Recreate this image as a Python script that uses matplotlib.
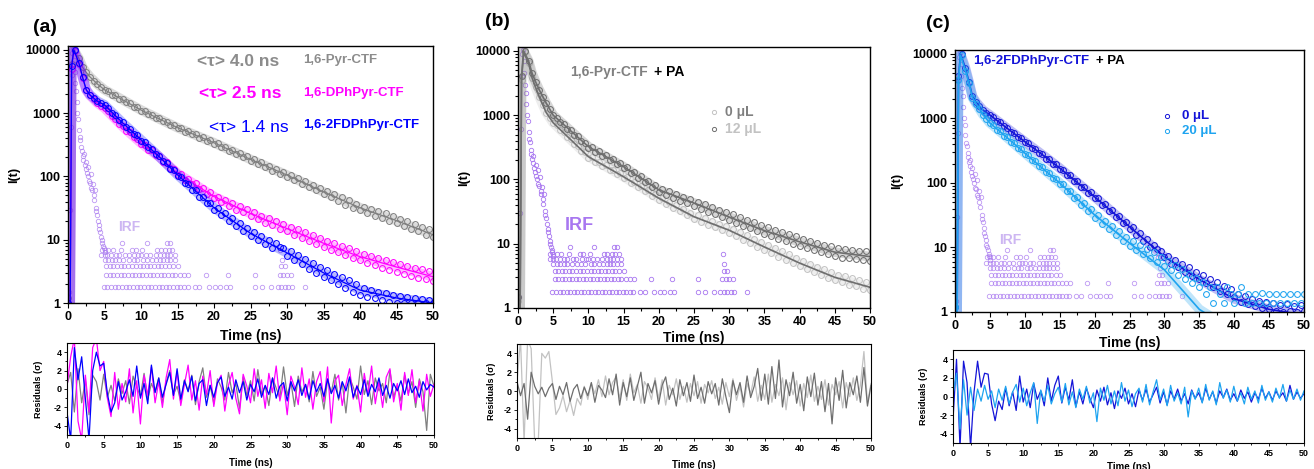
import matplotlib
matplotlib.use('Agg')
import matplotlib.pyplot as plt
from matplotlib.ticker import NullFormatter
import numpy as np

plt.rcParams['font.family'] = ['Liberation Sans', 'DejaVu Sans']
plt.rcParams['font.weight'] = 'bold'
plt.rcParams['axes.labelweight'] = 'bold'
plt.rcParams['axes.unicode_minus'] = False

# ---- data ----
t = np.arange(0, 50.01, 0.5)          # sampling of data / residual points (ns)
t_fit = [0.3, 0.5, 0.8, 1.5, 2, 2.5, 3, 4, 5, 7.5, 10, 12.5, 15, 20, 25, 30, 35, 40, 45, 50]

# panel (a) decays
a_pyr = [1.2, 6000, 9800, 7300, 5300, 4400, 3750, 3250, 2900, 2600,
         2350, 2230, 1950, 1900, 1700, 1680, 1480, 1440, 1260, 1230,
         1100, 1090, 960, 940, 850, 830, 740, 735, 650, 640,
         575, 575, 510, 515, 460, 462, 405, 418, 368, 372,
         328, 335, 290, 296, 255, 262, 228, 235, 200, 207,
         178, 188, 158, 166, 140, 148, 124, 132, 111, 118,
         98, 106, 87, 93, 77, 84, 68, 74, 60, 66,
         53, 59, 47, 53, 41, 47, 36, 42, 32, 37,
         29, 33, 26, 31, 24, 28, 22, 26, 20, 24,
         18.5, 21.5, 16.5, 19.5, 15, 17.5, 13.5, 16, 12, 14.5, 11]
a_dph = [1, 5000, 9500, 6000, 3600, 2300, 1900, 1650, 1450, 1320,
         1200, 1090, 890, 820, 680, 625, 530, 495, 415, 390,
         325, 315, 265, 258, 215, 210, 172, 168, 136, 132,
         106, 110, 89, 92, 75, 78, 63, 66, 53, 56,
         45, 48, 39, 43, 34, 38, 30, 34, 27, 30.5,
         24, 27, 21, 24, 18.5, 22, 17, 19.5, 15, 17.5,
         13.5, 16, 12, 14.5, 10.8, 13, 9.6, 11.8, 8.6, 10.6,
         7.8, 9.6, 7.0, 8.8, 6.3, 8.0, 5.7, 7.3, 5.1, 6.6,
         4.7, 6.0, 4.3, 5.6, 4.0, 5.2, 3.6, 4.8, 3.3, 4.5,
         3.1, 4.2, 2.9, 3.9, 2.7, 3.6, 2.5, 3.4, 2.4, 3.2, 2.2]
a_2fd = [1, 5500, 9800, 6200, 3700, 2350, 1950, 1750, 1550, 1440,
         1350, 1220, 1000, 935, 775, 715, 600, 565, 470, 445,
         368, 348, 287, 272, 224, 212, 174, 163, 133, 126,
         102, 98, 79, 77, 61, 60, 48, 48, 38, 38.5,
         29.5, 31.5, 24.5, 26.5, 20, 22, 16.5, 18.5, 13.8, 15.3,
         11.4, 13, 9.8, 11.4, 8.5, 9.9, 7.3, 8.8, 7.8, 7.5,
         5.6, 6.6, 4.7, 5.7, 4.1, 4.9, 3.5, 4.3, 3.0, 3.7,
         2.6, 3.3, 2.3, 2.9, 2.0, 2.6, 1.75, 2.3, 1.5, 2.0,
         1.35, 1.75, 1.25, 1.6, 1.2, 1.5, 1.1, 1.45, 1.05, 1.35,
         1.0, 1.3, 1.0, 1.25, 1.0, 1.2, 1.0, 1.15, 1.0, 1.1, 1.0]
fit_a_pyr = [1, 6000, 10000, 7300, 5300, 4400, 3750, 2900, 2340, 1620, 1120, 810, 590, 340, 186, 105, 57, 32, 20, 12]
fit_a_dph = [1, 5000, 10000, 6000, 3600, 2300, 1900, 1450, 1200, 610, 335, 203, 112, 48, 26, 15, 8.8, 5.4, 3.7, 2.6]
fit_a_2fd = [1, 5500, 10000, 6200, 3700, 2350, 1950, 1550, 1350, 700, 380, 205, 106, 32, 12.6, 6.2, 3.0, 1.6, 1.2, 1.0]

# panel (b) decays: 1,6-Pyr-CTF + PA
b_12 = [1.5, 4000, 9800, 7000, 4500, 3300, 2500, 1900, 1550, 1250,
        1000, 920, 775, 735, 615, 590, 490, 470, 392, 375,
        312, 315, 270, 275, 232, 238, 200, 208, 173, 180,
        150, 156, 126, 132, 107, 112, 90, 95, 76, 81,
        64, 71, 58, 65, 52, 59, 47, 54, 43, 50,
        39, 45, 35, 41, 31.5, 37.5, 28.5, 34, 26, 31,
        23, 28.5, 21, 26, 19, 23.5, 17.3, 21.5, 15.6, 19.5,
        14, 18, 13, 16.5, 12, 15.3, 10.9, 14, 10, 13,
        9.3, 12, 8.6, 11.2, 8.0, 10.4, 7.4, 9.7, 6.9, 9.1,
        6.4, 8.6, 6.1, 8.3, 5.9, 8.0, 5.7, 7.8, 5.5, 7.6, 5.4]
b_0 = [1.3, 3500, 9500, 6500, 3800, 2700, 1950, 1450, 1100, 900,
       760, 695, 578, 545, 452, 430, 355, 337, 279, 265,
       218, 220, 189, 190, 163, 165, 141, 142, 121, 124,
       104, 108, 89, 92, 76, 80, 66, 68, 56, 59,
       48, 51, 42, 45, 36.5, 39.5, 32, 34.5, 28, 30.5,
       24.5, 27.5, 22, 25, 19.8, 22.8, 18, 20.6, 16.3, 18.8,
       14.7, 17, 13, 15.2, 11.5, 13.5, 10.2, 12, 9, 10.6,
       8.0, 9.5, 7.1, 8.5, 6.3, 7.6, 5.6, 6.8, 5.0, 6.0,
       4.5, 5.4, 4.0, 4.9, 3.6, 4.4, 3.3, 4.0, 2.9, 3.6,
       2.7, 3.3, 2.5, 3.1, 2.3, 2.9, 2.2, 2.7, 2.0, 2.5, 1.9]
fit_b_12 = [1, 4000, 10000, 7000, 4500, 3300, 2500, 1550, 1000, 569, 324, 226, 158, 69, 43, 26, 16, 10.7, 7.4, 6.3]
fit_b_0 = [1, 3500, 9500, 6500, 3800, 2700, 1950, 1100, 760, 415, 226, 158, 110, 51, 26.3, 16.2, 8.9, 5.0, 3.0, 2.1]

# panel (c) decays: 1,6-2FDPhPyr-CTF + PA
c_0 = [1.2, 4500, 9800, 6000, 3700, 2200, 1800, 1550, 1350, 1230,
       1130, 1060, 905, 872, 752, 722, 622, 598, 513, 494,
       425, 409, 350, 340, 289, 281, 239, 233, 197, 194,
       163, 160, 132, 131, 107, 107, 87, 88, 71, 72,
       58, 59, 46, 47.5, 37, 38.5, 30, 31, 24, 25,
       19.5, 20.5, 15.5, 16.5, 12.5, 13.5, 10, 10.8, 9.4, 8.8,
       7.0, 7.4, 5.6, 6.4, 4.9, 5.6, 4.2, 4.9, 3.6, 4.2,
       3.2, 3.7, 2.8, 3.3, 2.4, 2.9, 2.15, 2.55, 1.9, 2.3,
       1.7, 1.9, 1.45, 1.75, 1.35, 1.6, 1.25, 1.5, 1.15, 1.45,
       1.1, 1.4, 1.05, 1.3, 1.0, 1.35, 1.05, 1.25, 1.0, 1.3, 1.05]
c_20 = [1.2, 4000, 9500, 5500, 3500, 2100, 1700, 1400, 1150, 980,
        850, 790, 665, 635, 535, 510, 430, 412, 346, 332,
        280, 270, 224, 220, 181, 178, 146, 144, 118, 117,
        95, 95, 74, 76, 59, 60, 46, 49, 37, 39,
        29, 32, 23.5, 26, 19.2, 21.5, 15.6, 17.8, 12.8, 14.6,
        10.5, 12.6, 9.1, 11, 7.9, 9.6, 6.9, 8.4, 6.0, 7.2,
        5.1, 6.2, 4.4, 5.3, 3.8, 4.6, 3.2, 3.9, 2.8, 3.4,
        2.4, 2.9, 1.9, 2.4, 1.4, 2.4, 1.9, 1.4, 2.4, 1.9,
        1.4, 1.9, 2.4, 1.4, 1.9, 1.4, 1.9, 1.4, 2.0, 1.4,
        1.9, 1.4, 1.9, 1.4, 1.9, 1.4, 1.9, 1.4, 1.9, 1.4, 1.9]
fit_c_0 = [1, 4500, 10000, 6000, 3700, 2200, 1800, 1350, 1130, 700, 437, 275, 170, 61, 21, 7.2, 3.2, 1.6, 1.1, 0.9]
fit_c_20 = [1, 4000, 9500, 5500, 3500, 2100, 1700, 1150, 850, 500, 290, 170, 100, 32, 11.7, 4.5, 1.1, 0.5, 0.3, 0.2]

# instrument response (same in every panel)
irf_t = [0.2, 0.3, 0.4, 0.5, 0.6, 0.7, 0.8, 0.9, 1.0, 1.1, 1.2, 1.3, 1.4, 1.5, 1.6, 1.7,
         1.8, 1.9, 2.0, 2.1, 2.2, 2.3, 2.4, 2.5, 2.6, 2.7, 2.8, 2.9, 3.0, 3.1, 3.2, 3.3,
         3.4, 3.5, 3.6, 3.7, 3.8, 3.9, 4.0, 4.1, 4.2, 4.3, 4.4, 4.5, 4.6, 4.7, 4.8, 4.9, 5.0]
irf_v = [1.5, 30, 600, 4000, 9000, 10500, 7000, 4500, 3000, 2200, 1500, 1000, 800, 550, 420, 380,
         290, 250, 210, 180, 230, 150, 130, 170, 115, 100, 140, 85, 80, 110, 65, 60,
         75, 50, 42, 60, 32, 28, 25, 20, 17, 15, 13, 11, 10, 9, 8, 7.5, 6.5]
irf_levels = [1.8, 2.8, 3.8, 4.8, 5.8, 7.0, 9.0]
irf_tail_times = [
    [4.9, 5.4, 5.9, 6.4, 6.9, 7.4, 7.9, 8.4, 8.9, 9.4, 9.9, 10.4, 10.9, 11.4, 11.9, 12.4, 12.9,
     13.4, 13.9, 14.4, 14.9, 15.4, 15.9, 16.4, 17.4, 18.0, 19.3, 20.2, 20.8, 21.6, 22.2,
     25.6, 26.6, 27.8, 28.7, 29.2, 29.7, 30.2, 30.7, 32.5],
    [5.2, 5.7, 6.2, 6.7, 7.2, 7.7, 8.2, 8.7, 9.2, 9.7, 10.2, 10.7, 11.2, 11.7, 12.2, 12.7, 13.2,
     13.7, 14.2, 14.7, 15.3, 15.9, 16.5, 18.9, 21.9, 25.6, 29.0, 29.5, 30.0, 30.5],
    [5.2, 5.7, 6.2, 6.7, 7.2, 7.7, 8.2, 8.8, 9.3, 9.8, 10.3, 10.8, 11.3, 11.8, 12.3, 12.8, 13.3,
     13.8, 14.4, 15.0, 29.2, 29.7],
    [5.0, 5.5, 6.0, 6.5, 7.0, 7.6, 8.4, 9.0, 9.5, 10.3, 10.8, 11.5, 12.1, 12.6, 13.0, 13.5, 14.0, 14.6, 29.3],
    [4.5, 5.0, 5.4, 5.9, 6.6, 7.0, 7.8, 8.3, 9.1, 9.6, 10.0, 10.7, 11.2, 12.0, 12.6, 13.1, 13.5, 14.0, 14.6],
    [4.6, 5.0, 5.5, 6.1, 7.2, 8.8, 9.3, 10.2, 12.2, 12.7, 13.3, 13.8, 14.3, 29.1],
    [7.4, 10.8, 13.6, 14.0],
]

# residuals
res_a_pyr = [0.5, 1.8, -2.5, 2.2, -1.5, 1.0, -2.8, 1.5, 0.8, -1.2,
             1.6, -0.9, 0.4, -1.3, 1.1, -0.5, 0.9, -1.6, 1.4, 0.2,
             -0.8, 1.7, -1.1, 0.6, -0.3, 1.2, -1.5, 0.7, 2.0, -0.6,
             0.3, -1.4, 1.0, -0.2, 1.5, -1.7, 0.8, 2.3, -0.9, 0.4,
             -1.6, 1.1, 0.2, -1.2, 1.8, -0.4, 0.6, -2.1, 1.3, -0.7,
             0.9, -1.3, 2.1, -0.5, 0.3, -1.8, 1.2, 0.1, -1.0, 2.4,
             -0.7, 0.8, -1.9, 1.4, -0.3, 0.5, -1.4, 1.9, -0.8, 0.2,
             -2.2, 1.0, -0.4, 1.6, -1.2, 0.7, -2.6, 1.3, 0.2, -1.1,
             2.5, -0.6, 0.9, -1.7, 1.2, -0.2, 0.6, -1.5, 2.0, -0.9,
             0.4, -1.3, 1.5, -0.5, 0.8, -2.0, 1.1, -0.3, -4.5, 1.6, 0.3]
res_a_dph = [0.3, 3.5, 5.5, -3.5, -5.5, 1.5, -2.5, 4.5, 5.5, 2.0,
             3.0, -1.0, -3.0, 1.8, -2.2, 0.6, -1.4, 2.2, -2.6, 0.9,
             -3.8, 1.5, -0.7, 2.4, -1.5, 0.8, -2.0, 1.2, 3.2, -1.1,
             1.9, -1.8, 0.5, 2.6, -1.2, 0.9, -2.3, 1.4, -0.6, 2.0,
             -1.9, 0.7, 1.5, -2.4, 0.4, 1.8, -1.0, -2.7, 1.6, 0.3,
             -1.5, 2.2, -0.8, 1.0, -2.1, 1.7, -0.4, 2.5, -1.3, 0.6,
             -2.8, 1.4, 0.2, -1.7, 2.3, -0.9, 1.1, -2.2, 0.8, 1.9,
             -1.4, 2.4, -3.7, 0.9, 1.5, -1.8, 0.5, 2.2, -1.1, 0.4,
             -2.5, 1.7, -0.6, 2.5, -1.6, 0.8, -2.0, 1.3, 2.2, -1.4,
             0.6, -2.3, 1.8, -0.7, 2.1, -1.5, 0.9, -2.4, 1.6, -0.8, 0.5]
res_a_2fd = [-2.5, -5.5, 4.5, 1.0, 3.5, -1.0, -5.5, 2.0, 4.0, 2.5,
             2.8, -0.5, -2.5, -1.5, 0.8, -1.2, -0.3, 1.0, -0.8, 2.5,
             -1.0, 0.6, -1.6, 2.6, -0.4, 1.2, -0.9, 0.5, 1.8, -0.7,
             2.2, -1.1, 0.9, -0.3, 1.4, -1.3, 0.6, 1.0, -1.8, 0.4,
             -0.9, 0.7, 1.3, -0.8, 0.2, -1.1, 1.0, -0.4, 0.8, -1.2,
             0.5, -0.3, 1.1, -0.9, 0.4, -0.6, 1.2, -1.0, 0.3, 0.7,
             -1.3, 0.8, -0.2, 1.0, -0.7, 0.5, -1.1, 0.9, -0.3, 0.6,
             -0.8, 1.1, -0.5, 0.4, -1.0, 0.8, -0.2, 1.3, -0.9, 0.3,
             -0.6, 1.0, -0.8, 0.5, -0.3, 1.2, -0.7, 0.4, -1.0, 0.6,
             -0.2, 0.9, -0.6, 1.1, -0.4, 0.3, -0.9, 0.8, -0.1, 0.5, 0.2]
res_b_12 = [1.0, -0.5, 0.8, -3.0, 2.0, 0.5, -0.3, 0.4, -0.6, 0.3,
            0.8, -0.9, 0.5, -0.4, 0.9, -1.1, 0.2, 0.7, -0.8, 0.4,
            -0.5, 0.9, -1.2, 0.6, 0.1, -0.7, 1.3, -0.4, 1.8, -1.5,
            0.9, -0.6, 1.4, -1.0, 0.5, 2.0, -1.3, 0.8, -0.2, 1.1,
            -1.4, 0.6, 1.5, -0.9, 0.3, -1.6, 1.2, -0.5, 0.9, -1.1,
            1.7, -0.8, 0.4, -1.3, 1.0, -0.3, 0.8, -1.5, 1.3, -0.6,
            -2.3, 1.1, -0.4, 0.9, -1.2, 1.6, -0.7, 0.5, 2.4, -1.0,
            1.8, -1.4, 2.6, -0.8, 3.3, -1.7, 1.2, -0.5, 2.0, -1.3,
            0.7, -2.1, 1.5, -0.6, 1.9, -1.5, 1.0, -2.2, 0.8, -3.5,
            1.4, -1.0, 2.2, -1.8, 0.9, -0.4, 1.6, -1.2, 2.5, -1.6, 0.6]
res_b_0 = [1.0, 5.5, -5.5, 5.5, 4.5, -5.5, -5.5, 4.0, 3.5, 4.2,
           1.0, -2.5, -1.8, -0.5, -2.2, -1.0, -2.6, -0.8, -1.5, 0.5,
           -0.9, 0.8, -0.3, 1.2, -0.6, 1.6, -0.4, 0.9, 1.5, -0.8,
           1.2, -1.0, 1.8, -0.2, 0.7, -1.3, 1.0, 0.3, -0.9, 1.4,
           -0.8, 1.2, -1.5, 0.6, -0.4, 1.3, -0.9, 0.5, -1.2, 0.8,
           -0.5, 1.0, -1.3, 0.7, -0.2, 1.1, -0.8, 0.4, -1.4, 0.9,
           -0.6, 1.3, -1.0, 0.5, -1.7, 0.8, -0.3, 1.5, -1.1, 0.6,
           -0.9, 1.8, -1.2, 0.7, -0.5, 1.4, -2.0, 0.9, -0.4, 1.1,
           -1.6, 0.8, -0.7, 1.7, -1.1, 0.5, -0.9, 1.2, -1.5, 0.7,
           -0.4, 1.0, -1.8, 0.9, -0.6, 1.4, -1.0, 0.6, 4.2, -1.3, 0.8]
res_c_0 = [-2.5, 4.0, -5.5, 3.8, 1.5, -5.5, 0.5, 3.8, 1.0, 2.5,
           2.4, -0.8, -2.6, -0.5, -1.4, 0.9, -1.0, 0.5, -1.5, 2.2,
           -0.6, 0.8, -1.2, 1.4, -0.3, 0.6, -1.0, 2.0, -0.5, 1.2,
           2.2, -0.7, 1.0, -0.4, 1.8, -1.1, 0.5, -0.8, 0.9, -0.2,
           -1.2, 0.7, -0.5, 1.0, -0.9, 0.4, -1.3, 0.6, -0.2, 0.9,
           -0.8, 0.3, -1.1, 0.7, -0.4, 0.8, -0.6, 0.2, 1.0, -0.7,
           0.5, -0.9, 0.6, -0.3, 0.8, -0.5, 0.3, -0.8, 0.7, -0.2,
           0.4, -0.6, 0.9, -0.3, 0.5, -0.7, 0.6, -0.1, 0.8, -0.4,
           0.3, -0.5, 0.7, -0.2, 0.5, -0.6, 0.4, -0.3, 0.9, -0.2,
           0.5, -0.4, 0.6, -0.1, 0.4, -0.5, 1.2, -0.3, 0.5, -0.2, 0.3]
res_c_20 = [0.2, 2.5, -3.5, 1.8, -2.0, 1.0, -1.5, 0.8, -0.5, 1.2,
            -0.3, 0.6, -1.2, 0.8, -0.4, 1.1, -0.8, 0.5, 1.3, -0.6,
            0.9, -1.0, 0.4, 1.5, -2.9, 0.7, -0.5, 1.2, -0.8, 0.3,
            1.0, -0.6, 1.4, -0.9, 0.5, -1.2, 0.8, -0.3, 1.1, -0.7,
            0.4, -2.7, 0.9, -0.4, 1.2, -0.8, 0.6, -1.0, 1.5, -0.5,
            0.7, -1.1, 0.3, 0.9, -0.6, 1.3, -0.9, 0.5, 1.8, -0.4,
            0.8, -1.0, 1.2, -0.5, 0.4, -0.8, 1.0, -2.2, 0.6, -0.3,
            0.9, -0.7, 1.3, -0.4, 0.6, -0.9, 1.5, -0.2, 0.7, -0.6,
            1.1, -0.5, 0.4, -0.8, 1.0, -0.3, 0.6, -0.7, 1.2, -0.4,
            0.5, -0.6, 0.9, -0.2, 1.3, -0.5, 0.7, -0.3, 0.8, -0.4, 0.6]

GRAY = '#808080'
MAG = '#ff00ff'
BLUE = '#0000ff'
DGRAY = '#6e6e6e'
LGRAY = '#c2c2c2'
CBLUE = '#1414d8'
LBLUE = '#1ea4f0'
IRF = '#a877f0'

W, H = 1314, 469


def box(l, top, r, b):
    return [l / W, 1 - b / H, (r - l) / W, (b - top) / H]


fig = plt.figure(figsize=(W / 100, H / 100), dpi=100)


def style_main(ax, ylab_x, xlab_y):
    ax.set_yscale('log')
    ax.set_xlim(0, 50)
    ax.set_ylim(1, 11500)
    ax.set_xticks(range(0, 51, 5))
    ax.set_xticks(np.arange(2.5, 50, 5), minor=True)
    ax.set_yticks([1, 10, 100, 1000, 10000])
    ax.set_yticklabels(['1', '10', '100', '1000', '10000'])
    ax.yaxis.set_minor_formatter(NullFormatter())
    ax.tick_params(which='both', direction='out', width=0.8, labelsize=9, pad=2)
    ax.tick_params(which='major', length=3.5)
    ax.tick_params(which='minor', length=2)
    ax.set_xlabel('Time (ns)', fontsize=10)
    ax.xaxis.set_label_coords(0.5, xlab_y)
    ax.set_ylabel('I(t)', fontsize=9)
    ax.yaxis.set_label_coords(ylab_x, 0.5)
    for s in ax.spines.values():
        s.set_linewidth(1.0)


def style_res(ax, ylab_x, xlab_y):
    ax.set_xlim(0, 50)
    ax.set_ylim(-5, 5)
    ax.set_xticks(range(0, 51, 5))
    ax.set_xticks(np.arange(2.5, 50, 5), minor=True)
    ax.set_yticks([-4, -2, 0, 2, 4])
    ax.set_yticks([-3, -1, 1, 3], minor=True)
    ax.tick_params(which='both', direction='out', width=0.6, labelsize=6.5, pad=1.5)
    ax.tick_params(which='major', length=2.5)
    ax.tick_params(which='minor', length=1.5)
    ax.set_xlabel('Time (ns)', fontsize=7)
    ax.xaxis.set_label_coords(0.5, xlab_y)
    ax.set_ylabel('Residuals (σ)', fontsize=6.5)
    ax.yaxis.set_label_coords(ylab_x, 0.5)
    for s in ax.spines.values():
        s.set_linewidth(0.8)


def draw_irf(ax, alpha):
    kw = dict(ls='none', marker='o', mfc='none', mec=IRF, ms=3.2, mew=0.6, alpha=alpha)
    ax.plot(irf_t, irf_v, **kw)
    for lvl, times in zip(irf_levels, irf_tail_times):
        ax.plot(times, [lvl] * len(times), **kw)


def draw_decay(ax, data, fit, color, fitcolor, fitlw=1.2):
    # broad translucent band under the scattered counts, then the counts, then the fit
    ax.plot(t_fit, fit, color=color, lw=7, alpha=0.28, solid_capstyle='round')
    ax.plot(t, data, ls='none', marker='o', mfc='none', mec=color, ms=4.2, mew=0.75)
    ax.plot(t_fit, fit, color=fitcolor, lw=fitlw)


# ---------------- (a) ----------------
ax = fig.add_axes(box(68, 46, 433, 303))
draw_irf(ax, 0.75)
draw_decay(ax, a_pyr, fit_a_pyr, GRAY, GRAY, 0.9)
draw_decay(ax, a_dph, fit_a_dph, MAG, MAG, 0.9)
draw_decay(ax, a_2fd, fit_a_2fd, BLUE, BLUE, 0.9)
style_main(ax, -0.13, -0.1)
tr = ax.transAxes
ax.text(0.353, 0.938, '<τ> 4.0 ns', color='#8c8c8c', fontsize=12.5, transform=tr, va='center')
ax.text(0.644, 0.946, '1,6-Pyr-CTF', color='#8c8c8c', fontsize=9.5, transform=tr, va='center')
ax.text(0.359, 0.817, '<τ> 2.5 ns', color=MAG, fontsize=12.5, transform=tr, va='center')
ax.text(0.644, 0.817, '1,6-DPhPyr-CTF', color=MAG, fontsize=9.5, transform=tr, va='center')
ax.text(0.386, 0.681, '<τ> 1.4 ns', color=BLUE, fontsize=12.5, fontweight='normal',
        transform=tr, va='center')
ax.text(0.644, 0.693, '1,6-2FDPhPyr-CTF', color=BLUE, fontsize=9.5, transform=tr, va='center')
ax.text(0.137, 0.296, 'IRF', color='#cdb6f2', fontsize=10, transform=tr, va='center')

ax = fig.add_axes(box(67, 343, 434, 435))
ax.plot(t, res_a_pyr, color=GRAY, lw=0.9)
ax.plot(t, res_a_dph, color=MAG, lw=0.9)
ax.plot(t, res_a_2fd, color=BLUE, lw=0.9)
style_res(ax, -0.065, -0.25)

# ---------------- (b) ----------------
ax = fig.add_axes(box(518, 47, 870, 308))
draw_irf(ax, 1.0)
draw_decay(ax, b_0, fit_b_0, LGRAY, DGRAY)
draw_decay(ax, b_12, fit_b_12, DGRAY, DGRAY)
style_main(ax, -0.136, -0.088)
tr = ax.transAxes
ax.text(0.148, 0.904, '1,6-Pyr-CTF', color=GRAY, fontsize=10, transform=tr, va='center')
ax.text(0.385, 0.904, '+ PA', color='black', fontsize=10, transform=tr, va='center')
ax.plot([0.557], [0.751], 'o', mfc='none', mec=LGRAY, ms=3, mew=0.7, transform=tr)
ax.plot([0.557], [0.686], 'o', mfc='none', mec=DGRAY, ms=3, mew=0.7, transform=tr)
ax.text(0.588, 0.751, '0 μL', color=GRAY, fontsize=10, transform=tr, va='center')
ax.text(0.588, 0.686, '12 μL', color=LGRAY, fontsize=10, transform=tr, va='center')
ax.text(0.134, 0.318, 'IRF', color=IRF, fontsize=13, transform=tr, va='center')

ax = fig.add_axes(box(517, 344, 871, 438))
ax.plot(t, res_b_0, color=LGRAY, lw=0.9)
ax.plot(t, res_b_12, color=DGRAY, lw=0.9)
style_res(ax, -0.06, -0.235)

# ---------------- (c) ----------------
ax = fig.add_axes(box(955, 50, 1304, 312))
draw_irf(ax, 0.75)
draw_decay(ax, c_0, fit_c_0, CBLUE, CBLUE)
draw_decay(ax, c_20, fit_c_20, LBLUE, LBLUE)
style_main(ax, -0.148, -0.09)
tr = ax.transAxes
ax.text(0.052, 0.958, '1,6-2FDPhPyr-CTF', color=CBLUE, fontsize=9.5, transform=tr, va='center')
ax.text(0.404, 0.958, '+ PA', color='black', fontsize=9.5, transform=tr, va='center')
ax.plot([0.607], [0.748], 'o', mfc='none', mec=CBLUE, ms=3, mew=0.7, transform=tr)
ax.plot([0.607], [0.691], 'o', mfc='none', mec=LBLUE, ms=3, mew=0.7, transform=tr)
ax.text(0.65, 0.748, '0 μL', color=CBLUE, fontsize=9.5, transform=tr, va='center')
ax.text(0.65, 0.691, '20 μL', color=LBLUE, fontsize=9.5, transform=tr, va='center')
ax.text(0.126, 0.275, 'IRF', color='#cdb6f2', fontsize=10, transform=tr, va='center')

ax = fig.add_axes(box(953, 350, 1304, 443))
ax.plot(t, res_c_0, color=CBLUE, lw=0.9)
ax.plot(t, res_c_20, color=LBLUE, lw=0.9)
style_res(ax, -0.07, -0.2)

# panel letters
fig.text(45 / W, 1 - 28 / H, '(a)', fontsize=14, ha='center', va='center')
fig.text(497 / W, 1 - 22 / H, '(b)', fontsize=14, ha='center', va='center')
fig.text(938 / W, 1 - 24 / H, '(c)', fontsize=14, ha='center', va='center')

fig.savefig('out.png', dpi=100)
